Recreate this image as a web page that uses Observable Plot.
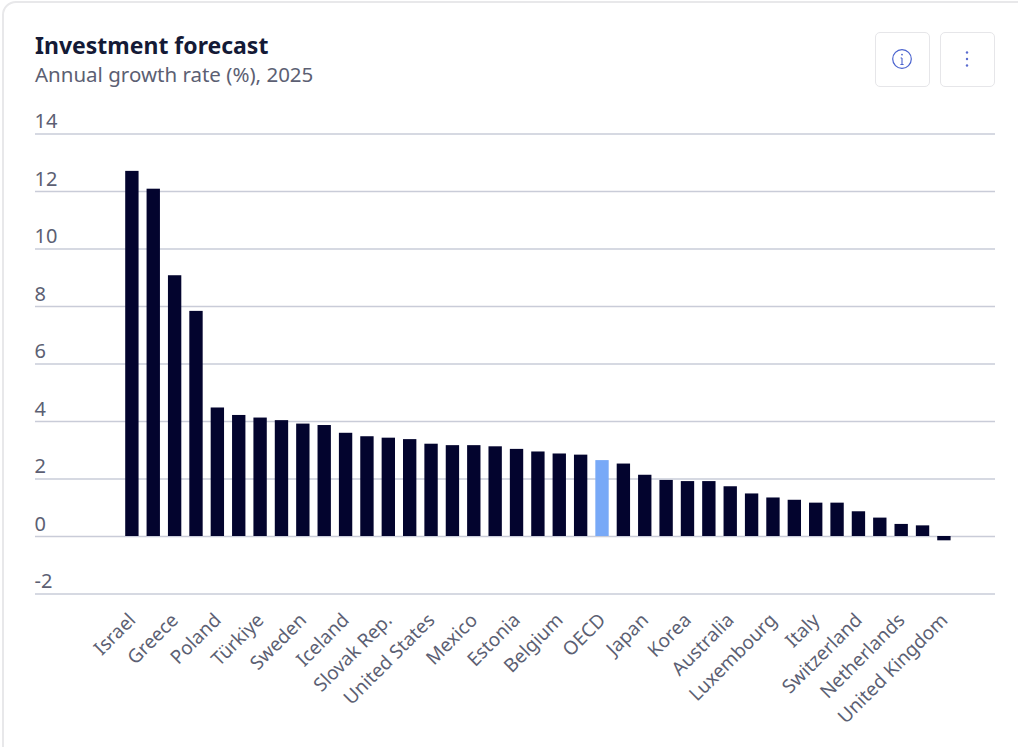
<!DOCTYPE html>
<html>
<head>
<meta charset="utf-8">
<script src="https://cdn.jsdelivr.net/npm/d3@7"></script>
<script src="https://cdn.jsdelivr.net/npm/@observablehq/plot@0.6"></script>
<style>
html,body{margin:0;padding:0;background:#fff;width:1018px;height:747px;overflow:hidden;font-family:"Noto Sans",sans-serif}
#card{position:absolute;left:2px;top:1px;width:1040px;height:790px;border:2px solid #e8e8ea;border-radius:14px;box-sizing:border-box}
#title{position:absolute;left:35px;top:29px;font-size:23px;line-height:32px;font-weight:700;color:#141a36}
#subtitle{position:absolute;left:35px;top:59px;font-size:20.5px;line-height:30px;color:#5c5f73}
.btn{position:absolute;top:32px;width:55px;height:55px;border:1.5px solid #e6e6e9;border-radius:5px;box-sizing:border-box;background:#fff}
.btn svg{position:absolute;left:0;top:0}
#chart{position:absolute;left:0;top:100px}
</style>
</head>
<body>
<div id="card"></div>
<div id="title">Investment forecast</div>
<div id="subtitle">Annual growth rate (%), 2025</div>
<div class="btn" style="left:875px"><svg width="52" height="52" viewBox="0 0 52 52"><circle cx="26" cy="26" r="9.3" fill="none" stroke="#4a63cf" stroke-width="1.2"/><path d="M26 25v6.5M24.4 31.5h3.2M24.6 25h1.4" fill="none" stroke="#4a63cf" stroke-width="1.1"/><circle cx="26" cy="21.6" r="0.9" fill="#4a63cf"/></svg></div>
<div class="btn" style="left:940px"><svg width="52" height="52" viewBox="0 0 52 52"><circle cx="26" cy="19.5" r="1.2" fill="#5a6ccf"/><circle cx="26" cy="26" r="1.2" fill="#5a6ccf"/><circle cx="26" cy="32.5" r="1.2" fill="#5a6ccf"/></svg></div>
<div id="chart"></div>
<script>
// Only every second bar carries a readable name in the picture; the others keep a neutral key.
const categories = ["Israel","bar 2","Greece","bar 4","Poland","bar 6","Türkiye","bar 8","Sweden","bar 10","Iceland","bar 12","Slovak Rep.","bar 14","United States","bar 16","Mexico","bar 18","Estonia","bar 20","Belgium","bar 22","OECD","bar 24","Japan","bar 26","Korea","bar 28","Australia","bar 30","Luxembourg","bar 32","Italy","bar 34","Switzerland","bar 36","Netherlands","bar 38","United Kingdom"];
const values = [12.7,12.08,9.07,7.83,4.47,4.21,4.12,4.03,3.91,3.86,3.59,3.47,3.42,3.37,3.21,3.16,3.16,3.12,3.03,2.94,2.87,2.83,2.64,2.52,2.13,1.95,1.91,1.91,1.73,1.48,1.34,1.26,1.16,1.16,0.86,0.64,0.42,0.37,-0.15];
const tickLabels = categories.filter(c => !c.startsWith("bar "));
const yTicks = [-2,0,2,4,6,8,10,12,14];
const rows = categories.map((c,i) => ({country:c, value:values[i]}));

const chart = Plot.plot({
  width: 1018,
  height: 647,
  marginLeft: 35,
  marginRight: 23,
  marginTop: 0,
  marginBottom: 130.5,
  style: {fontFamily: '"Noto Sans", sans-serif', background: "transparent", overflow: "visible"},
  x: {domain: categories, range: [121.2, 954.6], paddingInner: 0.375, paddingOuter: 0.1875, round: false},
  y: {domain: [-2, 14], range: [493.5, 33.5]},
  marks: [
    Plot.ruleY(yTicks, {stroke: "#c9ccd8", strokeWidth: 1.3}),
    Plot.barY(rows, {x: "country", y: "value", fill: d => d.country === "OECD" ? "#78a9f7" : "#03042e"}),
    Plot.axisY({ticks: yTicks, tickSize: 0, tickFormat: d => String(d), textAnchor: "start", dx: 8, dy: -12, fontSize: 20, color: "#5c5f73", label: null}),
    Plot.axisX({ticks: tickLabels, tickSize: 0, tickRotate: -45, tickPadding: 0, fontSize: 19, color: "#5c5f73", label: null, anchor: "bottom"})
  ]
});
document.getElementById("chart").appendChild(chart);
</script>
</body>
</html>
